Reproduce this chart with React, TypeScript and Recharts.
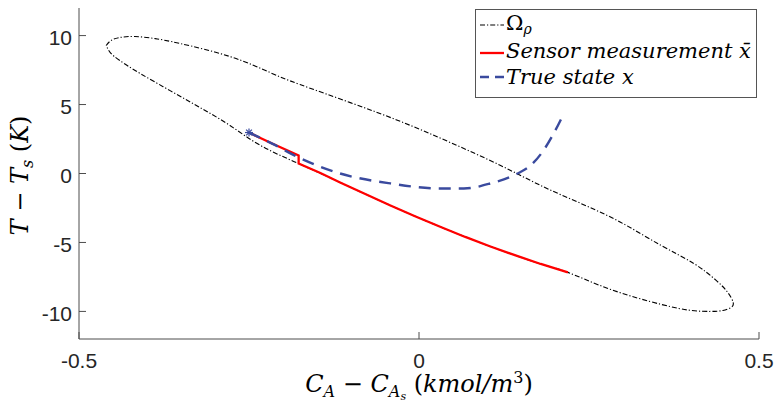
import React from 'react';
import { ComposedChart, Line, XAxis, YAxis, Legend } from 'recharts';

// Boundary of the stability region Ω_ρ, traced clockwise from its leftmost point
const regionX = [
  -0.46, -0.453, -0.44, -0.418, -0.388, -0.351, -0.278, -0.219, -0.175, -0.101, -0.027,
  0.046, 0.12, 0.179, 0.238, 0.297, 0.356, 0.404, 0.437, 0.454, 0.462, 0.459, 0.447,
  0.429, 0.4, 0.356, 0.282, 0.219, 0.179, 0.105, 0.032, -0.042, -0.116, -0.177, -0.233,
  -0.278, -0.322, -0.366, -0.41, -0.44, -0.454, -0.46,
];
const regionY = [
  9.28, 9.64, 9.86, 9.93, 9.78, 9.42, 8.48, 7.32, 6.45, 5.14, 3.77,
  2.25, 0.58, -0.87, -2.17, -3.55, -5.22, -6.52, -7.75, -8.62, -9.35, -9.71, -9.93,
  -10.0, -9.93, -9.49, -8.41, -7.17, -6.56, -5.29, -3.88, -2.32, -0.65, 0.72, 2.03,
  3.48, 4.78, 6.01, 7.25, 8.19, 8.77, 9.28,
];

// Sensor measurement trajectory
const sensorX = [
  -0.25, -0.216, -0.177, -0.177, -0.145, -0.116, -0.079, -0.042, -0.005, 0.032, 0.068,
  0.105, 0.142, 0.179, 0.219,
];
const sensorY = [
  2.97, 2.17, 1.3, 0.72, 0.04, -0.65, -1.49, -2.32, -3.12, -3.88, -4.6,
  -5.29, -5.94, -6.56, -7.17,
];

// True state trajectory
const stateX = [-0.25, -0.216, -0.177, -0.116, -0.042, 0.032, 0.066, 0.105, 0.145, 0.164, 0.183, 0.198, 0.213];
const stateY = [2.97, 2.17, 1.16, 0.0, -0.72, -1.09, -1.09, -0.72, 0.0, 0.58, 1.67, 2.9, 4.35];

const xTicks = [-0.5, 0, 0.5];
const yTicks = [-10, -5, 0, 5, 10];
const xDomain: [number, number] = [-0.5, 0.5];
const yDomain: [number, number] = [-12, 12];

const toPoints = (xs: number[], ys: number[]) => xs.map((x, i) => ({ x, y: ys[i] }));
const region = toPoints(regionX, regionY);
const sensor = toPoints(sensorX, sensorY);
const state = toPoints(stateX, stateY);

const W = 777;
const H = 404;
const PLOT = { left: 79, top: 8, right: 759, bottom: 339 };

const BLUE = '#3a4a9e';
const RED = '#ff0000';
const AXIS = '#4d4d4d';
const INK = '#262626';
const TICK_LEN = 7;
const NUM_FONT = '"Liberation Sans", Arial, Helvetica, sans-serif';
const MATH_FONT = '"DejaVu Serif", serif';

function LeftTick({ x, y, payload }: any) {
  return (
    <g>
      <line x1={x} y1={y} x2={x + TICK_LEN} y2={y} stroke={AXIS} strokeWidth={1} />
      <text x={x - 7} y={y + 9.5} textAnchor="end" fontFamily={NUM_FONT} fontSize={21} fill={INK}>
        {payload.value}
      </text>
    </g>
  );
}

function RightTick({ x, y }: any) {
  return <line x1={x} y1={y} x2={x - TICK_LEN} y2={y} stroke={AXIS} strokeWidth={1} />;
}

function BottomTick({ x, y, payload }: any) {
  return (
    <g>
      <line x1={x} y1={y} x2={x} y2={y - TICK_LEN} stroke={AXIS} strokeWidth={1} />
      <text x={x} y={y + 29} textAnchor="middle" fontFamily={NUM_FONT} fontSize={21} fill={INK}>
        {payload.value}
      </text>
    </g>
  );
}

function TopTick({ x, y }: any) {
  return <line x1={x} y1={y} x2={x} y2={y + TICK_LEN} stroke={AXIS} strokeWidth={1} />;
}

function XTitle() {
  const cx = (PLOT.left + PLOT.right) / 2;
  return (
    <text x={cx} y={PLOT.bottom + 53} textAnchor="middle" fontFamily={MATH_FONT} fontSize={24} fill="#000" fontStyle="italic">
      <tspan>C</tspan>
      <tspan dy={5} fontSize={16}>A</tspan>
      <tspan dy={-5} fontStyle="normal"> − </tspan>
      <tspan>C</tspan>
      <tspan dy={5} fontSize={16}>A</tspan>
      <tspan dy={3} fontSize={11}>s</tspan>
      <tspan dy={-8} fontStyle="normal"> (</tspan>
      <tspan>kmol/m</tspan>
      <tspan dy={-9} fontSize={16} fontStyle="normal">3</tspan>
      <tspan dy={9} fontStyle="normal">)</tspan>
    </text>
  );
}

function YTitle() {
  const cy = (PLOT.top + PLOT.bottom) / 2 + 2;
  return (
    <text
      transform={`translate(28, ${cy}) rotate(-90)`}
      textAnchor="middle"
      fontFamily={MATH_FONT}
      fontSize={24}
      fill="#000"
      fontStyle="italic"
    >
      <tspan>T</tspan>
      <tspan fontStyle="normal"> − </tspan>
      <tspan>T</tspan>
      <tspan dy={5} fontSize={16}>s</tspan>
      <tspan dy={-5} fontStyle="normal"> (</tspan>
      <tspan>K</tspan>
      <tspan fontStyle="normal">)</tspan>
    </text>
  );
}

function StartStar(p: any) {
  const key = `star-${p.index}`;
  if (p.index !== 0 || p.cx == null) return <g key={key} />;
  const { cx, cy } = p;
  const r = 4;
  const d = r * 0.72;
  return (
    <g key={key} stroke={BLUE} strokeWidth={1.2}>
      <line x1={cx - r} y1={cy} x2={cx + r} y2={cy} />
      <line x1={cx} y1={cy - r} x2={cx} y2={cy + r} />
      <line x1={cx - d} y1={cy - d} x2={cx + d} y2={cy + d} />
      <line x1={cx - d} y1={cy + d} x2={cx + d} y2={cy - d} />
    </g>
  );
}

function LegendBox() {
  return (
    <svg width={282} height={89} style={{ display: 'block' }}>
      <rect x={0.5} y={0.5} width={281} height={88} fill="#fff" stroke="#555" strokeWidth={1} />
      <line x1={5} x2={29} y1={16} y2={16} stroke="#000" strokeWidth={1.1} strokeDasharray="5 2 1.2 2" />
      <text x={31} y={21} fontFamily={MATH_FONT} fontSize={21} fill="#000">
        Ω<tspan dy={4} fontSize={14} fontStyle="italic">ρ</tspan>
      </text>
      <line x1={5} x2={29} y1={44} y2={44} stroke={RED} strokeWidth={2.3} />
      <text x={31} y={49} fontFamily={MATH_FONT} fontSize={21} fontStyle="italic" fill="#000">
        Sensor measurement x̄
      </text>
      <line x1={5} x2={29} y1={68} y2={68} stroke={BLUE} strokeWidth={2.3} strokeDasharray="9 6" />
      <text x={31} y={75} fontFamily={MATH_FONT} fontSize={21} fontStyle="italic" fill="#000">
        True state x
      </text>
    </svg>
  );
}

export default function App() {
  return (
    <div style={{ position: 'absolute', left: 0, top: 0, width: W, height: H, background: '#fff' }}>
      <ComposedChart
        width={W}
        height={H}
        margin={{ top: PLOT.top, right: W - PLOT.right, bottom: 0, left: 0 }}
      >
        <XAxis
          xAxisId="b"
          type="number"
          dataKey="x"
          domain={xDomain}
          ticks={xTicks}
          interval={0}
          allowDataOverflow
          height={H - PLOT.bottom}
          tickLine={false}
          tickSize={0}
          tickMargin={0}
          axisLine={{ stroke: AXIS, strokeWidth: 1 }}
          tick={<BottomTick />}
          label={<XTitle />}
        />
        <XAxis
          xAxisId="t"
          orientation="top"
          type="number"
          domain={xDomain}
          ticks={xTicks}
          interval={0}
          allowDataOverflow
          height={0}
          tickLine={false}
          tickSize={0}
          tickMargin={0}
          axisLine={{ stroke: AXIS, strokeWidth: 1 }}
          tick={<TopTick />}
        />
        <YAxis
          yAxisId="l"
          type="number"
          dataKey="y"
          domain={yDomain}
          ticks={yTicks}
          interval={0}
          allowDataOverflow
          width={PLOT.left}
          tickLine={false}
          tickSize={0}
          tickMargin={0}
          axisLine={{ stroke: AXIS, strokeWidth: 1 }}
          tick={<LeftTick />}
          label={<YTitle />}
        />
        <YAxis
          yAxisId="r"
          orientation="right"
          type="number"
          domain={yDomain}
          ticks={yTicks}
          interval={0}
          allowDataOverflow
          width={0}
          tickLine={false}
          tickSize={0}
          tickMargin={0}
          axisLine={{ stroke: AXIS, strokeWidth: 1 }}
          tick={<RightTick />}
        />
        <Line
          xAxisId="b"
          yAxisId="l"
          data={region}
          dataKey="y"
          type="natural"
          stroke="#000"
          strokeWidth={1.1}
          strokeDasharray="5 2 1.2 2"
          dot={false}
          activeDot={false}
          isAnimationActive={false}
        />
        <Line
          xAxisId="b"
          yAxisId="l"
          data={sensor}
          dataKey="y"
          type="linear"
          stroke={RED}
          strokeWidth={2.3}
          dot={false}
          activeDot={false}
          isAnimationActive={false}
        />
        <Line
          xAxisId="b"
          yAxisId="l"
          data={state}
          dataKey="y"
          type="monotone"
          stroke={BLUE}
          strokeWidth={2.4}
          strokeDasharray="12 8"
          dot={StartStar}
          activeDot={false}
          isAnimationActive={false}
        />
        <Legend
          layout="vertical"
          align="center"
          verticalAlign="middle"
          content={() => <LegendBox />}
          wrapperStyle={{ left: 475, top: 9, width: 282, height: 89 }}
        />
      </ComposedChart>
    </div>
  );
}
